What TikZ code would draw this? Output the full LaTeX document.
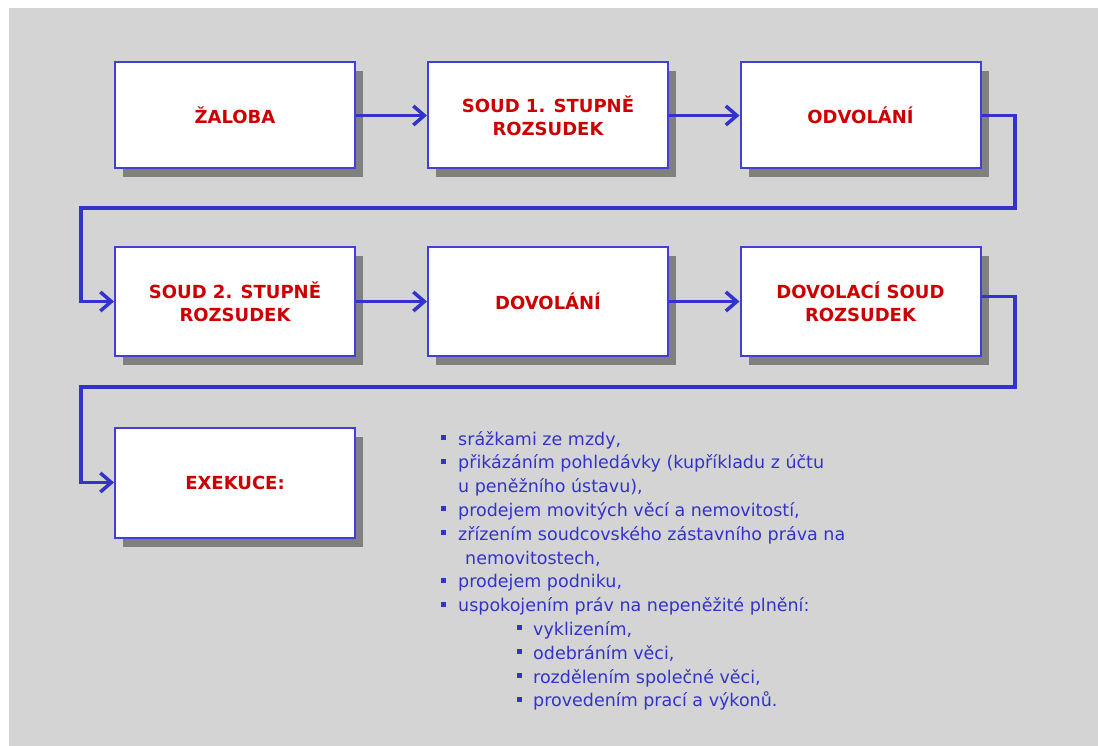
\documentclass[tikz,border=0pt]{standalone}
\usepackage{fontspec}
\setmainfont{DejaVu Sans}
\usetikzlibrary{arrows.meta,shadows}
\definecolor{bg}{RGB}{212,212,212}
\definecolor{bordblue}{RGB}{64,64,216}
\definecolor{connblue}{RGB}{51,51,204}
\definecolor{txtred}{RGB}{204,0,0}
\definecolor{shadowgray}{RGB}{128,128,128}
\tikzset{
  stagebox/.style={draw=bordblue, line width=2pt, fill=white, minimum width=240pt,
    inner sep=0pt, align=center, text=txtred,
    font=\bfseries\fontsize{18}{23}\selectfont,
    general shadow={fill=shadowgray, shadow xshift=8pt, shadow yshift=-9pt}},
  conn/.style={draw=connblue, line width=3.5pt, line join=miter,
    -{Straight Barb[length=11pt,width=19pt,line width=3.5pt]}},
  listline/.style={anchor=base west, inner sep=0pt, text=connblue,
    font=\fontsize{17.5}{23}\selectfont},
  bul/.style={fill=connblue}
}
\begin{document}
\begin{tikzpicture}[x=1pt,y=-1pt]
\useasboundingbox (0,0) rectangle (1098,746);
\fill[bg] (9,8) rectangle (1098,746);

% row 1
\node[stagebox, minimum height=106pt] (b1) at (235,115.5) {ŽALOBA};
\node[stagebox, minimum height=106pt] (b2) at (548,115.5) {SOUD 1. STUPNĚ\\ROZSUDEK};
\node[stagebox, minimum height=106pt] (b3) at (860.5,115.5) {ODVOLÁNÍ};
% row 2
\node[stagebox, minimum height=108pt] (b4) at (235,301.5) {SOUD 2. STUPNĚ\\ROZSUDEK};
\node[stagebox, minimum height=108pt] (b5) at (548,301.5) {DOVOLÁNÍ};
\node[stagebox, minimum height=108pt] (b6) at (860.5,301.5) {DOVOLACÍ SOUD\\ROZSUDEK};
% row 3
\node[stagebox, minimum height=110pt] (b7) at (235,482.5) {EXEKUCE:};

\coordinate (r1) at (1015,208);
\coordinate (l1) at (81,208);
\coordinate (r2) at (1015,387);
\coordinate (l2) at (81,387);

\draw[conn] (b1.east) -- (b2.west);
\draw[conn] (b2.east) -- (b3.west);
\draw[conn] (b3.east) -| (r1) -- (l1) |- (b4.west);
\draw[conn] (b4.east) -- (b5.west);
\draw[conn] (b5.east) -- (b6.west);
\draw[conn] ([yshift=5pt]b6.east) -| (r2) -- (l2) |- (b7.west);

% list
\node[listline] (t1) at (458,445) {srážkami ze mzdy,};
\node[listline] (t2) at (458,468.8) {přikázáním pohledávky (kupříkladu z účtu};
\node[listline] (t3) at (458,492.6) {u peněžního ústavu),};
\node[listline] (t4) at (458,516.4) {prodejem movitých věcí a nemovitostí,};
\node[listline] (t5) at (458,540.2) {zřízením soudcovského zástavního práva na};
\node[listline] (t6) at (465,564) {nemovitostech,};
\node[listline] (t7) at (458,587.8) {prodejem podniku,};
\node[listline] (t8) at (458,611.6) {uspokojením práv na nepeněžité plnění:};
\node[listline] (t9) at (533,635.4) {vyklizením,};
\node[listline] (t10) at (533,659.2) {odebráním věci,};
\node[listline] (t11) at (533,683) {rozdělením společné věci,};
\node[listline] (t12) at (533,706.8) {provedením prací a výkonů.};

\foreach \yy in {445,468.8,516.4,540.2,587.8,611.6}
  \fill[bul] (441,\yy-5) rectangle ++(5,-5);
\foreach \yy in {635.4,659.2,683,706.8}
  \fill[bul] (517,\yy-5) rectangle ++(5,-5);
\end{tikzpicture}
\end{document}
